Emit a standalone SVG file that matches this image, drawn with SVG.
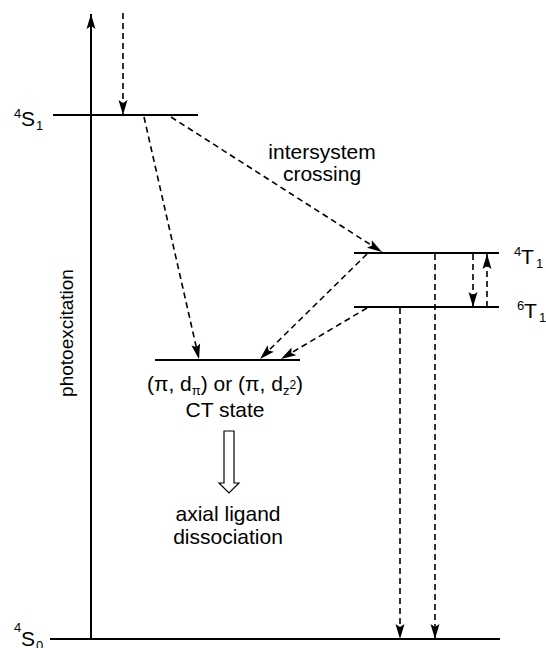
<svg xmlns="http://www.w3.org/2000/svg" width="546" height="648" viewBox="0 0 546 648">
<style>
text{font-family:"Liberation Sans",Arial,Helvetica,sans-serif;fill:#000}
.lvl{stroke:#000;stroke-width:2;fill:none}
.ax{stroke:#000;stroke-width:2;fill:none}
.dash{stroke:#000;stroke-width:1.6;fill:none;stroke-dasharray:6 4}
.lbl{font-size:21px}
.sm{font-size:13px}
.c{text-anchor:middle;font-size:21px}
</style>
<defs>
<marker id="ah" markerWidth="16" markerHeight="10" refX="15" refY="5" orient="auto" markerUnits="userSpaceOnUse">
<path d="M0,0.5 L15,5 L0,9.5 L3,5 Z" fill="#000"/>
</marker>
</defs>
<rect width="546" height="648" fill="#fff"/>

<g id="axis">
<line class="ax" x1="91" y1="638" x2="91" y2="14" marker-end="url(#ah)"/>
<text class="c" transform="translate(73,333) rotate(-90)" style="font-size:19px">photoexcitation</text>
</g>

<g id="S1">
<line class="lvl" x1="53" y1="115" x2="198" y2="115"/>
<text class="lbl"><tspan class="sm" x="14" y="118">4</tspan><tspan x="21" y="126">S</tspan><tspan class="sm" x="36" y="130">1</tspan></text>
</g>

<g id="T4">
<line class="lvl" x1="354" y1="253" x2="499" y2="253"/>
<text class="lbl"><tspan class="sm" x="514" y="256">4</tspan><tspan x="521" y="264">T</tspan><tspan class="sm" x="536" y="268">1</tspan></text>
</g>

<g id="T6">
<line class="lvl" x1="354" y1="307" x2="499" y2="307"/>
<text class="lbl"><tspan class="sm" x="517" y="310">6</tspan><tspan x="524" y="318">T</tspan><tspan class="sm" x="539" y="322">1</tspan></text>
</g>

<g id="CT">
<line class="lvl" x1="155" y1="360" x2="300" y2="360"/>
<text class="c" x="225" y="391">(π, d<tspan font-size="13" dy="4">π</tspan><tspan dy="-4">) or (π, d</tspan><tspan font-size="13" dy="4">z</tspan><tspan font-size="12" dy="-6">2</tspan><tspan dy="2">)</tspan></text>
<text class="c" x="225" y="417">CT state</text>
</g>

<g id="dissociation">
<polygon points="224,431 234,431 234,483 239,483 229,493 219,483 224,483" fill="#fff" stroke="#000" stroke-width="1.2"/>
<text class="c" x="228" y="521">axial ligand</text>
<text class="c" x="228" y="544">dissociation</text>
</g>

<g id="S0">
<line class="lvl" x1="50" y1="639" x2="500" y2="639"/>
<text class="lbl"><tspan class="sm" x="14" y="632">4</tspan><tspan x="21" y="646">S</tspan><tspan class="sm" x="36" y="650">0</tspan></text>
</g>

<g id="isc-label">
<text class="c" x="322" y="159">intersystem</text>
<text class="c" x="322" y="181">crossing</text>
</g>

<g id="connectors">
<line class="dash" x1="123" y1="13" x2="123" y2="115" marker-end="url(#ah)"/>
<line class="dash" x1="144" y1="117" x2="199" y2="359" marker-end="url(#ah)"/>
<line class="dash" x1="171" y1="117" x2="382" y2="252" marker-end="url(#ah)"/>
<line class="dash" x1="367" y1="254" x2="260" y2="359" marker-end="url(#ah)"/>
<line class="dash" x1="367" y1="308" x2="281" y2="359" marker-end="url(#ah)"/>
<line class="dash" x1="435" y1="254" x2="435" y2="639" marker-end="url(#ah)"/>
<line class="dash" x1="400" y1="308" x2="400" y2="639" marker-end="url(#ah)"/>
<line class="dash" x1="473" y1="254" x2="473" y2="307" marker-end="url(#ah)"/>
<line class="dash" x1="487" y1="307" x2="487" y2="254" marker-end="url(#ah)"/>
</g>
</svg>
